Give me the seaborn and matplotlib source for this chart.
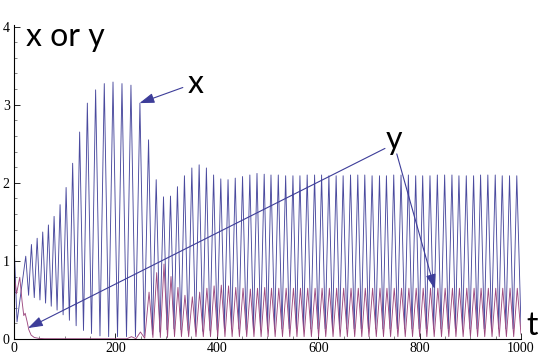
import matplotlib
matplotlib.use("Agg")
import matplotlib.pyplot as plt
from matplotlib.ticker import MultipleLocator
import seaborn as sns
import pandas as pd

# ---------------- data ----------------
# x series: start point, peak times/values, trough times/values
x_start_t = [0.0]
x_start_v = [1.25]
x_peak_t = [23.2, 34.4, 45.7, 56.7, 67.9, 79.1, 90.9, 102.8, 115.7, 129.5,
            144.7, 161.0, 178.1, 195.3, 213.0, 230.7, 248.4, 265.4, 280.5, 294.9,
            308.7, 322.4, 336.2, 350.8, 365.2, 379.5, 393.7, 407.9, 422.2, 436.4,
            450.8, 465.2, 479.3, 493.5, 506.9, 521.3, 535.8, 550.2, 564.0, 578.3,
            592.9, 606.7, 621.1, 635.4, 649.2, 663.8, 678.1, 691.9, 706.3, 720.9,
            734.6, 749.0, 763.4, 777.9, 792.3, 806.1, 820.5, 835.0, 849.4, 863.8,
            877.6, 892.1, 906.5, 920.3, 934.6, 949.2, 963.0, 977.4, 991.7]
x_peak_v = [1.06, 1.21, 1.29, 1.37, 1.46, 1.57, 1.72, 1.94, 2.25, 2.65,
            3.02, 3.19, 3.27, 3.29, 3.27, 3.25, 3.02, 2.55, 2.04, 1.82,
            1.83, 1.95, 2.09, 2.19, 2.23, 2.19, 2.10, 2.05, 2.04, 2.06,
            2.08, 2.10, 2.12, 2.11, 2.10, 2.10, 2.09, 2.09, 2.09, 2.10,
            2.10, 2.10, 2.09, 2.09, 2.09, 2.10, 2.10, 2.10, 2.09, 2.09,
            2.09, 2.10, 2.10, 2.10, 2.09, 2.09, 2.09, 2.10, 2.10, 2.10,
            2.09, 2.09, 2.09, 2.10, 2.10, 2.10, 2.09, 2.09, 2.09]
x_low_t = [6.0, 28.8, 40.0, 51.2, 62.3, 73.5, 85.0, 96.9, 109.3, 122.6,
           137.1, 152.9, 169.6, 186.7, 204.2, 221.9, 239.6, 256.9, 273.0, 287.7,
           301.8, 315.6, 329.3, 343.5, 358.0, 372.4, 386.6, 400.8, 415.1, 429.3,
           443.6, 458.0, 472.3, 486.4, 500.2, 514.1, 528.6, 543.0, 557.1, 571.2,
           585.6, 599.8, 613.9, 628.3, 642.3, 656.5, 671.0, 685.0, 699.1, 713.6,
           727.8, 741.8, 756.2, 770.7, 785.1, 799.2, 813.3, 827.8, 842.2, 856.6,
           870.7, 884.9, 899.3, 913.4, 927.5, 941.9, 956.1, 970.2, 984.6, 1000.0]
x_low_v = [0.22, 0.56, 0.53, 0.50, 0.46, 0.42, 0.37, 0.31, 0.24, 0.17,
           0.11, 0.07, 0.04, 0.03, 0.03, 0.03, 0.03, 0.04, 0.06, 0.09,
           0.12, 0.13, 0.12, 0.11, 0.10, 0.10, 0.11, 0.12, 0.13, 0.13,
           0.13, 0.12, 0.12, 0.12, 0.13, 0.13, 0.13, 0.13, 0.13, 0.13,
           0.13, 0.13, 0.13, 0.13, 0.13, 0.13, 0.13, 0.13, 0.13, 0.13,
           0.13, 0.13, 0.13, 0.13, 0.13, 0.13, 0.13, 0.13, 0.13, 0.13,
           0.13, 0.13, 0.13, 0.13, 0.13, 0.13, 0.13, 0.13, 0.13, 0.16]

# y series: early decay, then peaks and troughs
y_early_t = [0.0, 5.0, 11.4, 16.0, 19.3, 22.0, 26.0, 29.2, 33.8, 40.0, 49.0, 60.0, 222.5]
y_early_v = [0.84, 0.58, 0.79, 0.48, 0.30, 0.33, 0.22, 0.12, 0.05, 0.02, 0.008, 0.004, 0.003]
y_peak_t = [231.7, 249.4, 266.4, 281.5, 295.9, 309.7, 323.4, 337.2, 351.8, 366.2,
            380.5, 394.7, 408.9, 423.2, 437.4, 451.8, 466.2, 480.3, 494.5, 507.9,
            522.3, 536.8, 551.2, 565.0, 579.3, 593.9, 607.7, 622.1, 636.4, 650.2,
            664.8, 679.1, 692.9, 707.3, 721.9, 735.6, 750.0, 764.4, 778.9, 793.3,
            807.1, 821.5, 836.0, 850.4, 864.8, 878.6, 893.1, 907.5, 921.3, 935.6,
            950.2, 964.0, 978.4, 992.7]
y_peak_v = [0.03, 0.09, 0.60, 0.85, 0.96, 0.80, 0.66, 0.56, 0.54, 0.60,
            0.65, 0.68, 0.69, 0.68, 0.66, 0.65, 0.64, 0.65, 0.66, 0.65,
            0.65, 0.65, 0.65, 0.65, 0.65, 0.65, 0.65, 0.65, 0.65, 0.65,
            0.65, 0.65, 0.65, 0.65, 0.65, 0.65, 0.65, 0.65, 0.65, 0.65,
            0.65, 0.65, 0.65, 0.65, 0.65, 0.65, 0.65, 0.65, 0.65, 0.65,
            0.65, 0.65, 0.65, 0.65]
y_low_t = [240.6, 257.9, 274.0, 288.7, 302.8, 316.6, 330.3, 344.5, 359.0, 373.4,
           387.6, 401.8, 416.1, 430.3, 444.6, 459.0, 473.3, 487.4, 501.2, 515.1,
           529.6, 544.0, 558.1, 572.2, 586.6, 600.8, 614.9, 629.3, 643.3, 657.5,
           672.0, 686.0, 700.1, 714.6, 728.8, 742.8, 757.2, 771.7, 786.1, 800.2,
           814.3, 828.8, 843.2, 857.6, 871.7, 885.9, 900.3, 914.4, 928.5, 942.9,
           957.1, 971.2, 985.6, 1000.0]
y_low_v = [0.004, 0.01, 0.02, 0.02, 0.02, 0.03, 0.03, 0.03, 0.03, 0.03,
           0.03, 0.03, 0.03, 0.03, 0.03, 0.03, 0.03, 0.03, 0.03, 0.03,
           0.03, 0.03, 0.03, 0.03, 0.03, 0.03, 0.03, 0.03, 0.03, 0.03,
           0.03, 0.03, 0.03, 0.03, 0.03, 0.03, 0.03, 0.03, 0.03, 0.03,
           0.03, 0.03, 0.03, 0.03, 0.03, 0.03, 0.03, 0.03, 0.03, 0.03,
           0.03, 0.03, 0.03, 0.06]

series_names = ["x", "y"]
series_colors = ["#4a4a9e", "#9e4a80"]

# ---------------- build table ----------------
def vertices(*pairs):
    pts = []
    for ts, vs in pairs:
        pts.extend(zip(ts, vs))
    return sorted(pts)

x_pts = vertices((x_start_t, x_start_v), (x_peak_t, x_peak_v), (x_low_t, x_low_v))
y_pts = vertices((y_early_t, y_early_v), (y_peak_t, y_peak_v), (y_low_t, y_low_v))
df = pd.concat([
    pd.DataFrame({"t": [p[0] for p in x_pts], "value": [p[1] for p in x_pts], "series": "x"}),
    pd.DataFrame({"t": [p[0] for p in y_pts], "value": [p[1] for p in y_pts], "series": "y"}),
], ignore_index=True)

# ---------------- plot ----------------
sns.set_style("ticks")
plt.rcParams["font.family"] = ["Liberation Serif", "DejaVu Serif"]

fig = plt.figure(figsize=(5.4, 3.62), dpi=100)
ax = fig.add_axes([0.0259, 0.0635, 0.9389, 0.8674])

sns.lineplot(data=df, x="t", y="value", hue="series", hue_order=series_names,
             palette=dict(zip(series_names, series_colors)), estimator=None,
             sort=False, lw=0.65, legend=False, ax=ax)

ax.set_xlim(0, 1000)
ax.set_ylim(0, 4.02)
ax.set_xlabel("")
ax.set_ylabel("")
for s in ["top", "right"]:
    ax.spines[s].set_visible(False)
for s in ["left", "bottom"]:
    ax.spines[s].set_linewidth(0.8)
    ax.spines[s].set_color("black")

ax.xaxis.set_major_locator(MultipleLocator(200))
ax.xaxis.set_minor_locator(MultipleLocator(50))
ax.yaxis.set_major_locator(MultipleLocator(1))
ax.yaxis.set_minor_locator(MultipleLocator(0.2))
ax.tick_params(which="major", direction="in", length=4, width=0.6, pad=2,
               labelsize=10, colors="black")
ax.tick_params(which="minor", direction="in", length=2.2, width=0.5, color="#555555")
ax.tick_params(axis="y", pad=3)

lab_font = dict(family=["Lato", "DejaVu Sans"], color="black")
ax.text(23.5, 3.87, "x or y", fontsize=23, ha="left", va="center", **lab_font)
ax.text(359, 3.27, "x", fontsize=23, ha="center", va="center", **lab_font)
ax.text(749, 2.55, "y", fontsize=23, ha="center", va="center", **lab_font)
ax.text(1021, 0.17, "t", fontsize=23, ha="center", va="center", clip_on=False, **lab_font)

arrow_kw = dict(arrowstyle="-|>,head_length=0.9,head_width=0.3", color="#3d3d99",
                lw=0.8, mutation_scale=10, shrinkA=0, shrinkB=0)
ax.annotate("", xy=(247.5, 3.02), xytext=(333, 3.22), arrowprops=arrow_kw)
ax.annotate("", xy=(27.6, 0.14), xytext=(731.7, 2.44), arrowprops=arrow_kw)
ax.annotate("", xy=(830, 0.64), xytext=(755, 2.37), arrowprops=arrow_kw)

fig.savefig("out.png", dpi=100)
